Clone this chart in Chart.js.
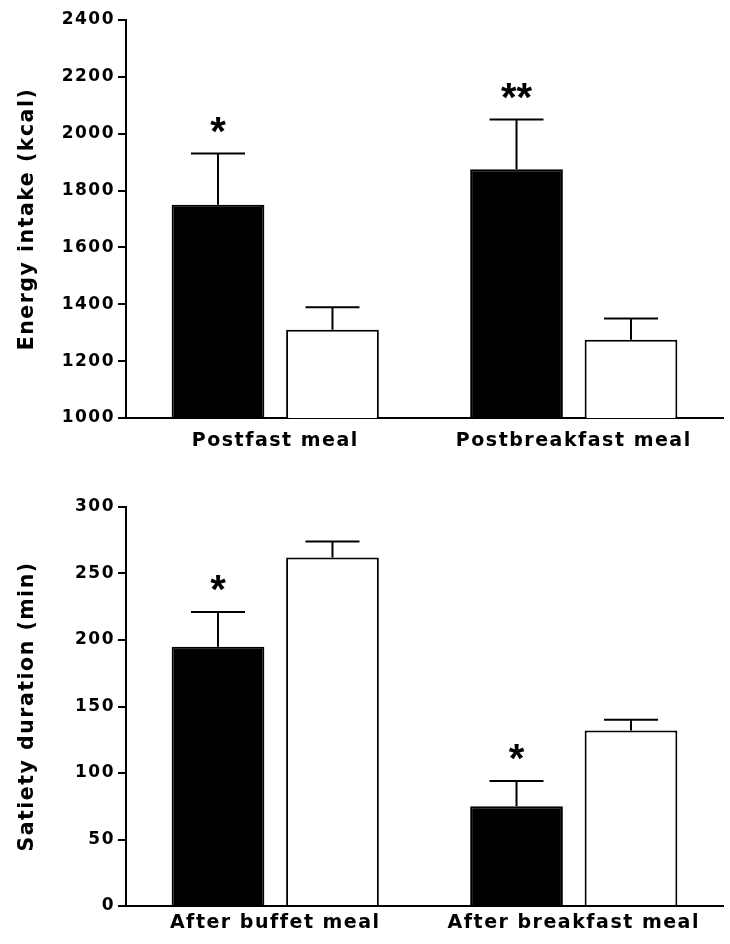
<!DOCTYPE html>
<html>
<head>
<meta charset="utf-8">
<script src="https://cdn.jsdelivr.net/npm/chart.js@4/dist/chart.umd.min.js"></script>
<style>
  body { margin: 0; background: #fff; }
  canvas { display: block; }
</style>
</head>
<body>
<canvas id="energyChart" width="730" height="472"></canvas>
<canvas id="satietyChart" width="730" height="472"></canvas>
<script>
// top panel: energy intake
const energyCategories = ["Postfast meal", "Postbreakfast meal"];
const energyFilled = [1750, 1875];
const energyFilledSem = [180, 175];
const energyOpen = [1310, 1275];
const energyOpenSem = [80, 75];
const energyMarks = ["*", "**"];
const energyMin = 1000, energyMax = 2400, energyStep = 200;

// bottom panel: satiety duration
const satietyCategories = ["After buffet meal", "After breakfast meal"];
const satietyFilled = [195, 75];
const satietyFilledSem = [26, 19];
const satietyOpen = [262, 132];
const satietyOpenSem = [12, 8];
const satietyMarks = ["*", "*"];
const satietyMin = 0, satietyMax = 300, satietyStep = 50;

Chart.defaults.font.family = "'DejaVu Sans', sans-serif";
Chart.defaults.font.weight = "bold";
Chart.defaults.color = "#000";

const spacing = {
    id: "spacing",
    beforeUpdate(chart) { chart.ctx.letterSpacing = "1.5px"; },
    beforeDraw(chart) { chart.ctx.letterSpacing = "1.5px"; }
};

// sem whiskers (upper only) + significance stars over filled bars
const errorBars = {
    id: "errorBars",
    afterDatasetsDraw(chart, args, opts) {
        const ctx = chart.ctx;
        const y = chart.scales.y;
        ctx.save();
        ctx.strokeStyle = "#000";
        ctx.lineWidth = 2;
        chart.data.datasets.forEach(function (ds, i) {
            const meta = chart.getDatasetMeta(i);
            meta.data.forEach(function (bar, j) {
                const top = y.getPixelForValue(ds.data[j] + ds.sem[j]);
                ctx.beginPath();
                ctx.moveTo(bar.x, bar.y);
                ctx.lineTo(bar.x, top);
                ctx.moveTo(bar.x - 27, top);
                ctx.lineTo(bar.x + 27, top);
                ctx.stroke();
                if (ds.marks && ds.marks[j]) {
                    ctx.letterSpacing = "0px";
                    ctx.font = "bold 40px 'Liberation Sans', Arial, sans-serif";
                    ctx.fillStyle = "#000";
                    ctx.textAlign = "center";
                    ctx.textBaseline = "alphabetic";
                    ctx.fillText(ds.marks[j], bar.x, top - 9);
                }
            });
        });
        ctx.restore();
    }
};

function makeChart(id, labels, filled, filledSem, open, openSem, marks, yMin, yMax, yStep, yTitle, pad, xHeight, xPad) {
    const ctx = document.getElementById(id).getContext("2d");
    return new Chart(ctx, {
        type: "bar",
        data: {
            labels: labels,
            datasets: [
                {
                    label: "Filled",
                    data: filled,
                    sem: filledSem,
                    marks: marks,
                    backgroundColor: "#000",
                    borderColor: "#000",
                    borderWidth: 2
                },
                {
                    label: "Open",
                    data: open,
                    sem: openSem,
                    backgroundColor: "#fff",
                    borderColor: "#000",
                    borderWidth: 2
                }
            ]
        },
        options: {
            responsive: false,
            animation: false,
            categoryPercentage: 0.767,
            barPercentage: 0.81,
            layout: { padding: pad },
            plugins: {
                legend: { display: false },
                tooltip: { enabled: false }
            },
            scales: {
                x: {
                    grid: { display: false, drawTicks: false },
                    border: { display: true, color: "#000", width: 2 },
                    ticks: { padding: xPad, font: { size: 19 } },
                    afterFit: function (scale) { scale.height = xHeight; }
                },
                y: {
                    min: yMin,
                    max: yMax,
                    grid: {
                        display: true,
                        drawOnChartArea: false,
                        drawTicks: true,
                        tickLength: 8,
                        color: "#000",
                        lineWidth: 2
                    },
                    border: { display: true, color: "#000", width: 2 },
                    ticks: {
                        stepSize: yStep,
                        padding: 3,
                        font: { size: 17 },
                        callback: function (v) { return String(v); }
                    },
                    title: {
                        display: true,
                        text: yTitle,
                        font: { size: 20.5 },
                        padding: { top: 15, bottom: 0 }
                    },
                    afterFit: function (scale) { scale.width = 126; }
                }
            }
        },
        plugins: [spacing, errorBars]
    });
}

makeChart("energyChart", energyCategories, energyFilled, energyFilledSem, energyOpen, energyOpenSem,
    energyMarks, energyMin, energyMax, energyStep, "Energy intake (kcal)",
    { top: 20, left: 0, right: 7, bottom: 0 }, 54, 12);

makeChart("satietyChart", satietyCategories, satietyFilled, satietyFilledSem, satietyOpen, satietyOpenSem,
    satietyMarks, satietyMin, satietyMax, satietyStep, "Satiety duration (min)",
    { top: 35, left: 0, right: 7, bottom: 0 }, 38, 6);
</script>
</body>
</html>
